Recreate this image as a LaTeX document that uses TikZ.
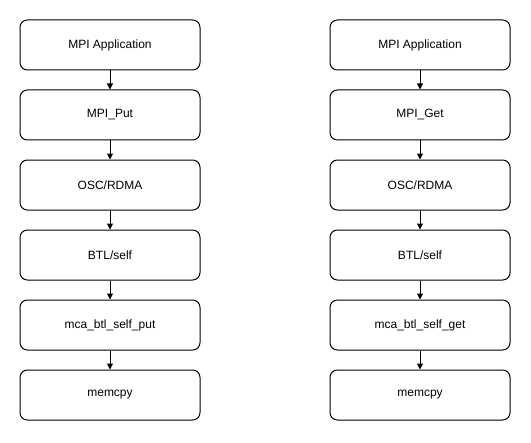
\documentclass[tikz,border=0pt]{standalone}
\usepackage{fontspec}
\setmainfont{Liberation Sans}
\usetikzlibrary{arrows.meta}
\begin{document}
\begin{tikzpicture}[x=0.75pt,y=-0.75pt,
  box/.style={draw=black, fill=white, rounded corners=5.5pt, minimum width=135pt, minimum height=37.5pt, inner sep=0pt, line width=0.75pt, font=\fontsize{9}{11}\selectfont},
  arr/.style={-{Triangle[length=4.5pt,width=4.5pt]}, line width=0.75pt}]
\useasboundingbox (0,0) rectangle (531,442);
\foreach \c/\x/\p/\s in {l/110/MPI\_Put/mca\_btl\_self\_put, r/420/MPI\_Get/mca\_btl\_self\_get}{
  \node[box] (\c1) at (\x,45) {MPI Application};
  \node[box] (\c2) at (\x,115) {\p};
  \node[box] (\c3) at (\x,185) {OSC/RDMA};
  \node[box] (\c4) at (\x,255) {BTL/self};
  \node[box] (\c5) at (\x,325) {\s};
  \node[box] (\c6) at (\x,395) {memcpy};
  \draw[arr] (\c1) -- (\c2);
  \draw[arr] (\c2) -- (\c3);
  \draw[arr] (\c3) -- (\c4);
  \draw[arr] (\c4) -- (\c5);
  \draw[arr] (\c5) -- (\c6);
}
\end{tikzpicture}
\end{document}
